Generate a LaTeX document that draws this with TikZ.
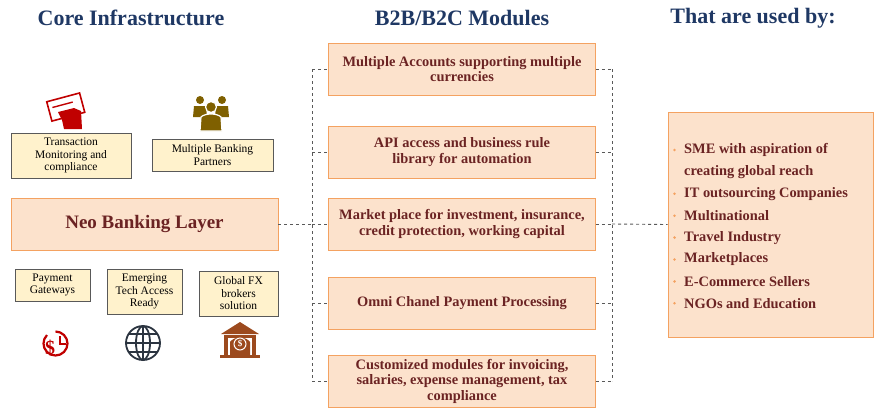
\documentclass[tikz,border=0pt]{standalone}
\usepackage{fontspec}
\setmainfont{Liberation Serif}
\begin{document}
\begin{tikzpicture}[x=1pt,y=-1pt,
 hdr/.style={font=\bfseries\fontsize{22}{24}\selectfont,text=navy},
 mod/.style={draw=obord,fill=peach,line width=0.9pt,text=dred,font=\bfseries\fontsize{14.4}{15.5}\selectfont,align=center,minimum width=267pt,minimum height=52pt,inner sep=2pt},
 small/.style={draw=gray!70!black,fill=cream,line width=0.9pt,font=\fontsize{11.5}{12.5}\selectfont,align=center,inner sep=1pt},
 dl/.style={dashed,gray!70!black,line width=0.9pt}]
\definecolor{navy}{HTML}{1F3864}
\definecolor{peach}{HTML}{FCE2CC}
\definecolor{obord}{HTML}{F4A261}
\definecolor{dred}{HTML}{6B2323}
\definecolor{cream}{HTML}{FFF2CC}
\definecolor{iconred}{HTML}{C00000}
\definecolor{olive}{HTML}{7F6000}
\definecolor{brownb}{HTML}{9C4A1E}
\definecolor{globec}{HTML}{2B3440}
\useasboundingbox (0,0) rectangle (885,410);
\node[hdr] (h1) at (131,18) {Core Infrastructure};
\node[hdr] (h2) at (462,18) {B2B/B2C Modules};
\node[hdr] (h3) at (753,18) {That are used by:};
% modules
\node[mod] (m1) at (462,69) {Multiple Accounts supporting multiple\\currencies};
\node[mod] (m2) at (462,152) {API access and business rule\\library for automation};
\node[mod] (m3) at (462,224) {Market place for investment, insurance,\\credit protection, working capital};
\node[mod] (m4) at (462,303) {Omni Chanel Payment Processing};
\node[mod] (m5) at (462,381) {Customized modules for invoicing,\\salaries, expense management, tax\\compliance};
% neo
\node[draw=obord,fill=peach,line width=0.9pt,text=dred,font=\bfseries\fontsize{19}{21}\selectfont,minimum width=267pt,minimum height=52pt] (neo) at (144.5,224) {Neo Banking Layer};
% small boxes
\node[small,minimum width=120pt,minimum height=45pt] (tm) at (71,155.5) {Transaction\\Monitoring and\\compliance};
\node[small,minimum width=121pt,minimum height=32pt] (mb) at (212.5,155) {Multiple Banking\\Partners};
\node[small,minimum width=75pt,minimum height=32pt] (pg) at (52.5,285) {Payment\\Gateways};
\node[small,minimum width=75pt,minimum height=45pt] (et) at (144.5,291.5) {Emerging\\Tech Access\\Ready};
\node[small,minimum width=79pt,minimum height=45pt] (fx) at (238.5,293.5) {Global FX\\brokers\\solution};
% right box
\node[draw=obord,fill=peach,line width=0.9pt,minimum width=205pt,minimum height=225pt] (rb) at (770.5,224.5) {};
\foreach \t [count=\i] in {SME with aspiration of,creating global reach,IT outsourcing Companies,Multinational,Travel Industry,Marketplaces,E-Commerce Sellers,NGOs and Education}{
  \node[anchor=west,text=dred,font=\bfseries\fontsize{14.4}{15.5}\selectfont,inner sep=0] (l\i) at (684,{150+(\i-1)*21.9}) {\t};
}
\foreach \i in {1,3,4,5,6,7,8}{\fill[obord] (674.5,{150+(\i-1)*21.9}) circle (1.4);}
% connectors
\coordinate (lt) at (312,69); \coordinate (lb) at (312,381); \coordinate (lm) at (312,224);
\coordinate (rt) at (612,69); \coordinate (rbb) at (612,381); \coordinate (rm) at (612,224);
\draw[dl] (lt) -- (lb);
\draw[dl] (rt) -- (rbb);
\foreach \m in {m1,m2,m3,m4,m5}{
  \draw[dl] (lt|-\m.west) -- (\m.west);
  \draw[dl] (\m.east) -- (rt|-\m.east);}
\draw[dl] (neo.east) -- (lm);
\draw[dl] (rm) -- (rb.west);
% icons
% card with hand
\begin{scope}[shift={(66,108)}]
\draw[iconred,line width=1.6pt,rotate=15] (-17,-11) rectangle (17,9);
\draw[iconred,line width=1.4pt,rotate=15] (-13,-4) -- (8,-4);
\fill[iconred] (-8,4) -- (8,0) -- (15,3) -- (16,21) -- (-2,21) -- (-4,12) -- cycle;
\end{scope}
% people
\begin{scope}[shift={(211,112)},olive]
\fill (-11,-12) circle (4); \fill (11,-12) circle (4);
\fill (-18,5) -- (-17,-6) -- (-5,-6) -- (-4,5) -- cycle;
\fill (18,5) -- (17,-6) -- (5,-6) -- (4,5) -- cycle;
\draw[white,line width=1.2pt,fill=olive] (0,-5) circle (5.5);
\draw[white,line width=1.2pt,fill=olive] (-11,19) -- (-10,5) .. controls (-6,1) and (6,1) .. (10,5) -- (11,19) -- cycle;
\end{scope}
% clock-dollar
\begin{scope}[shift={(56,344)}]
\draw[iconred,line width=2.2pt] (-9,-9) arc (225:-90:12);
\draw[iconred,line width=2pt] (4,-8) -- (4,0) -- (10,0);
\node[iconred,font=\bfseries\fontsize{20}{20}\selectfont,inner sep=0] (dol) at (-6,4) {\$};
\end{scope}
% globe
\begin{scope}[shift={(143,343)},globec,line width=1.8pt]
\draw (0,0) circle (17);
\draw (0,0) ellipse (7 and 17);
\draw (-17,0) -- (17,0);
\draw (0,-17) -- (0,17);
\draw (-14,-9) -- (14,-9); \draw (-14,9) -- (14,9);
\end{scope}
% bank
\begin{scope}[shift={(240,340)}]
\fill[brownb] (-19,-6) -- (0,-18) -- (19,-6) -- cycle;
\fill[brownb] (-16,-5) rectangle (16,15);
\fill[white] (-12,-2) rectangle (12,15);
\fill[brownb] (-10,15) -- (-10,2) .. controls (-6,-4) and (6,-4) .. (10,2) -- (10,15) -- cycle;
\draw[white,line width=1pt] (0,4) circle (6);
\node[white,font=\bfseries\fontsize{9}{9}\selectfont,inner sep=0] (bd) at (0,4) {\$};
\fill[brownb] (-20,15) rectangle (20,18);
\end{scope}
\end{tikzpicture}
\end{document}
